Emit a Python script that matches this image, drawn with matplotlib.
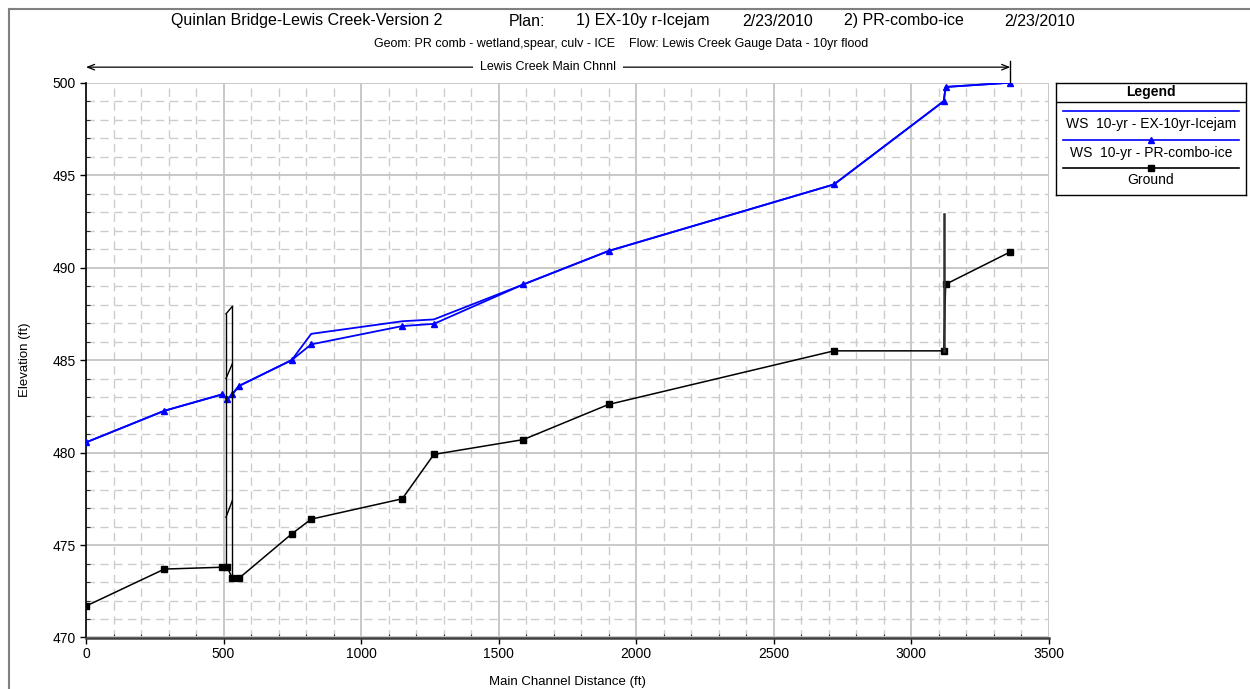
import matplotlib
matplotlib.use("Agg")
import matplotlib.pyplot as plt
from matplotlib.lines import Line2D
from matplotlib.ticker import MultipleLocator

plt.rcParams['font.family'] = ['Liberation Sans', 'DejaVu Sans']

# River stations (ft) and elevations (ft)
dist = [0, 285, 496, 514, 532, 556, 748, 819, 1150, 1265, 1590, 1900, 2720, 3119, 3126, 3361]
ground = [471.7, 473.7, 473.8, 473.8, 473.2, 473.2, 475.6, 476.4, 477.5, 479.9,
          480.7, 482.6, 485.5, 485.5, 489.1, 490.85]
ws_pr = [480.55, 482.26, 483.15, 482.88, 483.15, 483.6, 485.0, 485.85, 486.84, 486.96,
         489.09, 490.9, 494.5, 499.0, 499.77, 500.0]
ws_ex = [480.55, 482.26, 483.15, 482.88, 483.15, 483.6, 485.0, 486.42, 487.1, 487.2,
         489.09, 490.9, 494.5, 499.0, 499.77, 500.0]

# Culvert / road embankment outline near station 500
culv_x = [509, 532]
culv_ground = [473.8, 473.2]
culv_low = [476.5, 477.4]
culv_mid = [484.0, 484.8]
culv_top = [487.5, 487.9]

# Structure at station 3120
struct_x = 3120
struct_bot, struct_top = 485.5, 492.9

reach_name = "Lewis Creek Main Chnnl"

W, H = 1250, 689
fig = plt.figure(figsize=(W / 100, H / 100), dpi=100, facecolor='white')
ax = fig.add_axes([86 / W, 1 - 637.5 / H, (1048.5 - 86) / W, (637.5 - 82.7) / H])

blue = '#0000ff'
ax.plot(dist, ground, color='black', lw=1.1, marker='s', ms=4.5, zorder=4)
ax.plot(dist, ws_pr, color=blue, lw=1.3, marker='^', ms=5, zorder=5)
ax.plot(dist, ws_ex, color=blue, lw=1.3, zorder=5)

# culvert outline
ax.plot([culv_x[0], culv_x[0]], [culv_ground[0], culv_top[0]], color='black', lw=1.0, zorder=6)
ax.plot([culv_x[1], culv_x[1]], [culv_ground[1], culv_top[1]], color='black', lw=1.0, zorder=6)
ax.plot(culv_x, culv_low, color='black', lw=1.0, zorder=6)
ax.plot(culv_x, culv_mid, color='black', lw=1.0, zorder=6)
ax.plot(culv_x, culv_top, color='black', lw=1.0, zorder=6)

ax.plot([struct_x, struct_x], [struct_bot, struct_top], color='#303030', lw=1.8, zorder=6)

ax.set_xlim(0, 3500)
ax.set_ylim(470, 500)
ax.xaxis.set_major_locator(MultipleLocator(500))
ax.xaxis.set_minor_locator(MultipleLocator(100))
ax.yaxis.set_major_locator(MultipleLocator(5))
ax.yaxis.set_minor_locator(MultipleLocator(1))

ax.grid(which='major', color='#c4c4c4', lw=1.3, zorder=0)
ax.grid(which='minor', color='#cccccc', lw=1.0, linestyle=(0, (6.0, 4.0)), zorder=0)
ax.set_axisbelow(True)

for s in ('top', 'right'):
    ax.spines[s].set_visible(False)
ax.spines['left'].set_color('black')
ax.spines['left'].set_linewidth(1.2)
ax.spines['bottom'].set_color('#404040')
ax.spines['bottom'].set_linewidth(1.8)

ax.tick_params(which='major', direction='out', length=4, width=1, labelsize=10, colors='black')
ax.tick_params(which='minor', direction='in', length=3, width=0.8, colors='#303030')
ax.tick_params(axis='x', pad=3)

ax.set_xlabel("Main Channel Distance (ft)", fontsize=9.5, labelpad=11)
ax.set_ylabel("Elevation (ft)", fontsize=9.5, labelpad=15)

# reach annotation above the plot
y_arrow = 500.84
ax.annotate('', xy=(0, y_arrow), xytext=(dist[-1], y_arrow),
            arrowprops=dict(arrowstyle='<->,head_length=0.5,head_width=0.2', color='black', lw=0.9,
                            shrinkA=0, shrinkB=0),
            annotation_clip=False)
ax.plot([dist[-1], dist[-1]], [500, 501.15], color='black', lw=1.0, clip_on=False)
ax.text(dist[-1] / 2, y_arrow, reach_name, ha='center', va='center', fontsize=9,
        bbox=dict(facecolor='white', edgecolor='none', pad=5))

# titles
title_parts = [("Quinlan Bridge-Lewis Creek-Version 2", 171), ("Plan:", 509),
               ("1) EX-10y r-Icejam", 576), ("2/23/2010", 742),
               ("2) PR-combo-ice", 844), ("2/23/2010", 1004)]
for txt, xpx in title_parts:
    fig.text(xpx / W, 1 - 21 / H, txt, ha='left', va='center', fontsize=11.5)
fig.text(621 / W, 1 - 44 / H,
         "Geom: PR comb - wetland,spear, culv - ICE    Flow: Lewis Creek Gauge Data - 10yr flood",
         ha='center', va='center', fontsize=9)

# outer frame
fig.add_artist(Line2D([9 / W, 9 / W], [0, 1 - 9 / H], color='#808080', lw=1.5))
fig.add_artist(Line2D([9 / W, 1], [1 - 9 / H, 1 - 9 / H], color='#808080', lw=1.5))

# legend box
lx0, ly0, lx1, ly1 = 1056, 82.7, 1245.7, 195
lg = fig.add_axes([lx0 / W, 1 - ly1 / H, (lx1 - lx0) / W, (ly1 - ly0) / H])
lg.set_xlim(0, lx1 - lx0)
lg.set_ylim(ly1 - ly0, 0)
lg.set_xticks([])
lg.set_yticks([])
for s in lg.spines.values():
    s.set_linewidth(1.0)
    s.set_color('black')
lg.axhline(19.6, color='black', lw=1.0)
lg.text(94.8, 9.8, "Legend", ha='center', va='center', fontsize=10, fontweight='bold')
entries = [("WS  10-yr - EX-10yr-Icejam", blue, None),
           ("WS  10-yr - PR-combo-ice", blue, '^'),
           ("Ground", 'black', 's')]
line_y = [28.0, 57.3, 85.3]
text_y = [41.6, 70.6, 97.3]
for (label, col, mk), yl, yt in zip(entries, line_y, text_y):
    lg.plot([7, 94.8, 183], [yl, yl, yl], color=col, lw=1.2, marker=mk, ms=4.5, markevery=[1])
    lg.text(94.8, yt, label, ha='center', va='center', fontsize=10)

fig.savefig("out.png", dpi=100, facecolor='white')
